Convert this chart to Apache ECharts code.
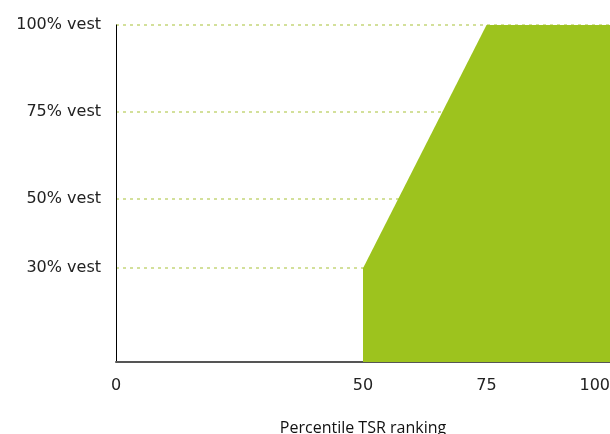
<!DOCTYPE html>
<html><head><meta charset="utf-8">
<script src="https://cdn.jsdelivr.net/npm/echarts@6/dist/echarts.min.js"></script>
<style>html,body{margin:0;padding:0;background:#fff}#c{width:610px;height:434px}</style>
</head><body><div id="c"></div>
<script>
const percentile = [50, 75, 100];
const vesting = [30, 100, 100];
const xTicks = [0, 50, 75, 100];
const yTicks = [30, 50, 75, 100];
const xTitle = 'Percentile TSR ranking';

const chart = echarts.init(document.getElementById('c'));
const font = '"DejaVu Sans", sans-serif';
chart.setOption({
  animation: false,
  grid: {left: 116, right: 0, top: 25, bottom: 72, outerBoundsMode: 'none', containLabel: false},
  xAxis: {
    type: 'value', min: 0, max: 100,
    name: xTitle, nameLocation: 'middle', nameGap: 58,
    nameTextStyle: {fontSize: 16, color: '#111', fontFamily: '"Open Sans", sans-serif'},
    axisLine: {show: true, lineStyle: {color: '#555', width: 2}},
    axisTick: {show: false},
    splitLine: {show: false},
    axisLabel: {customValues: xTicks, fontSize: 16, color: '#222', fontFamily: font, margin: 16, alignMaxLabel: 'right'}
  },
  yAxis: {
    type: 'value', min: 3, max: 100,
    axisLine: {show: true, lineStyle: {color: '#000', width: 1}},
    axisTick: {show: false, customValues: yTicks},
    splitLine: {show: true, lineStyle: {type: [3, 4], color: '#d3e09a', width: 2}},
    axisLabel: {customValues: yTicks, fontSize: 16, color: '#222', fontFamily: font, margin: 15,
      formatter: v => v + '% vest'}
  },
  series: [
    {
      type: 'line', z: 10,
      data: percentile.map((p, i) => [p, vesting[i]]),
      showSymbol: false, symbol: 'none',
      lineStyle: {width: 0},
      areaStyle: {color: '#9dc31e', opacity: 1, origin: 'start'}
    }
  ]
});
</script></body></html>
